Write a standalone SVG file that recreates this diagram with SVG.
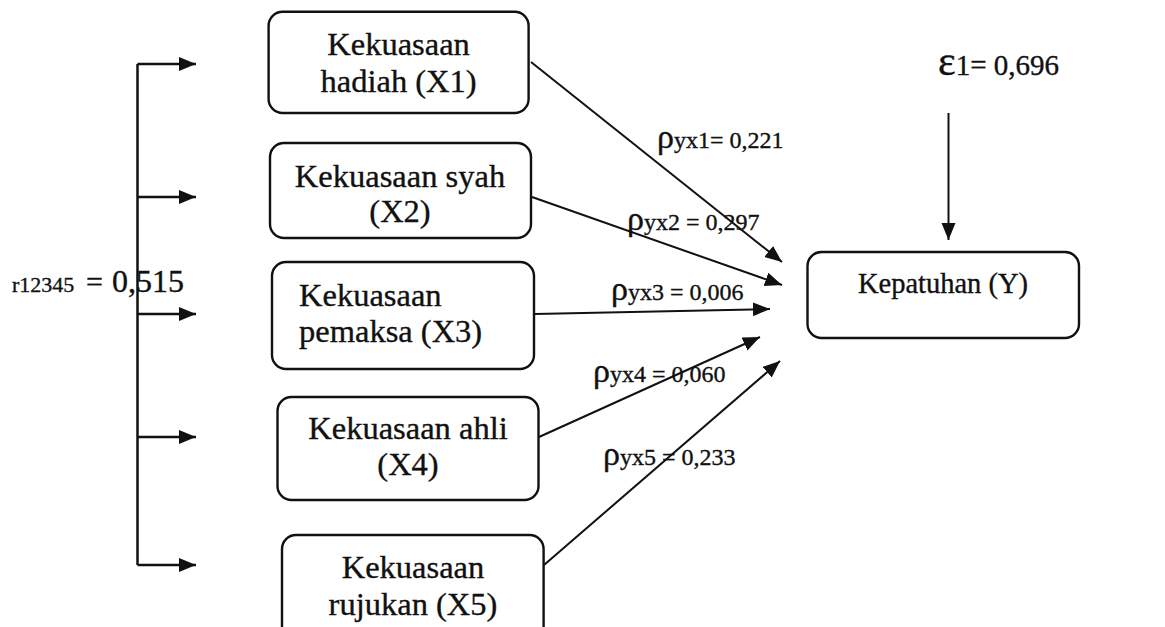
<svg xmlns="http://www.w3.org/2000/svg" width="1165" height="627" viewBox="0 0 1165 627">
<style>
  .box { fill: #ffffff; stroke: #111; stroke-width: 2.4; }
  .lbl { font-family: "Liberation Serif", "Times New Roman", serif; fill: #111; stroke: #111; stroke-width: 0.35; }
  .node { font-size: 32.5px; text-anchor: middle; }
  .coef { font-size: 24px; }
  .rho { font-size: 34px; }
  .con { stroke: #111; stroke-width: 2; fill: none; }
  .brk { stroke: #111; stroke-width: 2.5; fill: none; }
</style>
<defs>
  <marker id="ah" markerUnits="userSpaceOnUse" markerWidth="19" markerHeight="15" refX="17" refY="7" orient="auto">
    <path d="M0,0 L17,7 L0,14 z" fill="#111"/>
  </marker>
</defs>
<rect width="1165" height="627" fill="#ffffff"/>

<g id="connectors">
  <path class="brk" d="M137.5,64 V565"/>
  <path class="brk" d="M137.5,64 H196" marker-end="url(#ah)"/>
  <path class="brk" d="M137.5,197 H196" marker-end="url(#ah)"/>
  <path class="brk" d="M137.5,314 H196" marker-end="url(#ah)"/>
  <path class="brk" d="M137.5,437 H196" marker-end="url(#ah)"/>
  <path class="brk" d="M137.5,565 H196" marker-end="url(#ah)"/>
  <path class="con" d="M531,62 L782,262" marker-end="url(#ah)"/>
  <path class="con" d="M532,197 L782,285" marker-end="url(#ah)"/>
  <path class="con" d="M535,314 L770,309" marker-end="url(#ah)"/>
  <path class="con" d="M539,437 L760,337" marker-end="url(#ah)"/>
  <path class="con" d="M544,565 L780,361" marker-end="url(#ah)"/>
  <path class="con" d="M948.5,113 V240" marker-end="url(#ah)"/>
</g>

<g id="X1">
  <rect class="box" x="268.6" y="11.7" width="260" height="101.3" rx="14"/>
  <text class="lbl node" x="398.6" y="55">Kekuasaan</text>
  <text class="lbl node" x="398.6" y="92">hadiah (X1)</text>
</g>
<g id="X2">
  <rect class="box" x="270" y="143" width="261" height="95" rx="14"/>
  <text class="lbl node" x="400" y="187">Kekuasaan syah</text>
  <text class="lbl node" x="400" y="222">(X2)</text>
</g>
<g id="X3">
  <rect class="box" x="272" y="262" width="262" height="107" rx="14"/>
  <text class="lbl" font-size="32.5" x="299" y="306">Kekuasaan</text>
  <text class="lbl" font-size="32.5" x="299" y="342">pemaksa (X3)</text>
</g>
<g id="X4">
  <rect class="box" x="277.5" y="397" width="261" height="103" rx="14"/>
  <text class="lbl node" x="408" y="439">Kekuasaan ahli</text>
  <text class="lbl node" x="408" y="475">(X4)</text>
</g>
<g id="X5">
  <rect class="box" x="282" y="535" width="261.6" height="110" rx="14"/>
  <text class="lbl node" x="413" y="578">Kekuasaan</text>
  <text class="lbl node" x="413" y="615">rujukan (X5)</text>
</g>
<g id="Y">
  <rect class="box" x="807.5" y="252" width="271.5" height="86" rx="14"/>
  <text class="lbl" font-size="28.5" text-anchor="middle" x="943" y="293">Kepatuhan (Y)</text>
</g>
<g id="error">
  <text class="lbl" x="938" y="75"><tspan font-size="42">ε</tspan><tspan font-size="29">1= 0,696</tspan></text>
</g>

<g id="labels">
  <text class="lbl" x="12" y="292"><tspan font-size="22">r12345</tspan><tspan font-size="30" x="86">=</tspan><tspan font-size="32" x="112">0,515</tspan></text>
  <text class="lbl" x="657" y="148"><tspan class="rho">ρ</tspan><tspan class="coef">yx1= 0,221</tspan></text>
  <text class="lbl" x="627" y="230"><tspan class="rho">ρ</tspan><tspan class="coef">yx2 = 0,297</tspan></text>
  <text class="lbl" x="611" y="300"><tspan class="rho">ρ</tspan><tspan class="coef">yx3 = 0,006</tspan></text>
  <text class="lbl" x="593" y="382"><tspan class="rho">ρ</tspan><tspan class="coef">yx4 = 0,060</tspan></text>
  <text class="lbl" x="603" y="465"><tspan class="rho">ρ</tspan><tspan class="coef">yx5 = 0,233</tspan></text>
</g>
</svg>
